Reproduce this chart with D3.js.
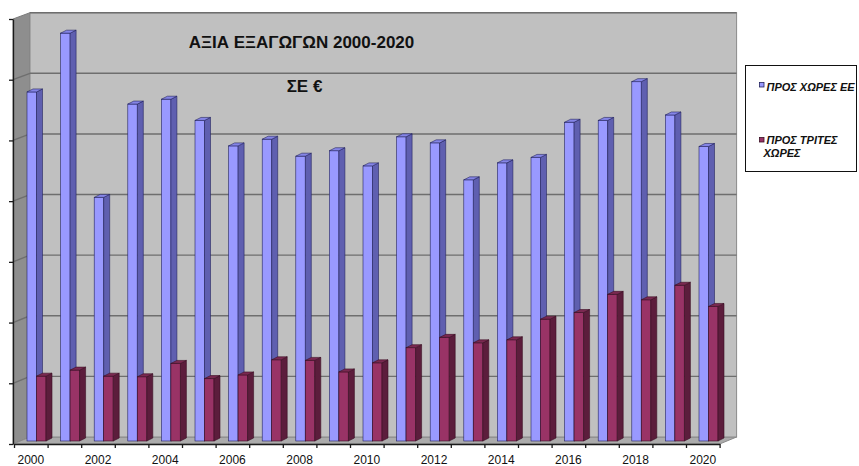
<!DOCTYPE html>
<html>
<head>
<meta charset="utf-8">
<script src="https://cdn.jsdelivr.net/npm/d3@7"></script>
<style>
  html, body { margin: 0; padding: 0; background: #ffffff; }
  svg { display: block; font-family: "Liberation Sans", Arial, sans-serif; }
</style>
</head>
<body>
<svg id="chart" width="859" height="466"></svg>
<script>
// Export values per year (gridline units)
const years = d3.range(2000, 2021);
const euValues = [5.76, 6.73, 4.02, 5.56, 5.64, 5.29, 4.87, 4.98, 4.70, 4.79, 4.54,
                  5.02, 4.92, 4.31, 4.59, 4.68, 5.26, 5.29, 5.93, 5.38, 4.86];
const thirdValues = [1.07, 1.17, 1.07, 1.06, 1.28, 1.03, 1.09, 1.34, 1.33, 1.14, 1.29,
                     1.54, 1.71, 1.62, 1.67, 2.01, 2.12, 2.42, 2.33, 2.57, 2.22];
const seriesNames = ["ΠΡΟΣ ΧΩΡΕΣ ΕΕ", "ΠΡΟΣ ΤΡΙΤΕΣ ΧΩΡΕΣ"];
const yTicks = d3.range(0, 8);

const svg = d3.select("#chart");

// 3D projection of the plot box
const wallDX = 17, wallDY = 7;      // depth offset of back wall
const barDX = 6, barDY = 3;         // depth of each column
const x0 = 14, step = 33.6;
const x = d3.scaleBand().domain(years).range([x0, x0 + step * years.length]).paddingInner(0).paddingOuter(0);
const yFront = d3.scaleLinear().domain([0, 7]).range([444, 19]);
const yWall = d3.scaleLinear().domain([0, 7]).range([437, 12.7]);
const yBar = d3.scaleLinear().domain([0, 7]).range([441, 441 - 7 * 60.6]);

const xL = x0, xR = x0 + step * years.length;

// side wall
svg.append("polygon")
  .attr("points", [[xL - 1, yFront(7)], [xL - 1 + wallDX, yWall(7)], [xL - 1 + wallDX, yWall(0)], [xL - 1, yFront(0)]].join(" "))
  .attr("fill", "#8e8e8e").attr("stroke", "#7a7a7a").attr("stroke-width", 1);

// floor
svg.append("polygon")
  .attr("points", [[xL - 1, yFront(0)], [xL - 1 + wallDX, yWall(0)], [xR + wallDX, yWall(0)], [xR, yFront(0)]].join(" "))
  .attr("fill", "#ababab").attr("stroke", "#8a8a8a").attr("stroke-width", 1);

// back wall
svg.append("rect")
  .attr("x", xL - 1 + wallDX).attr("y", yWall(7))
  .attr("width", xR + wallDX - (xL - 1 + wallDX)).attr("height", yWall(0) - yWall(7))
  .attr("fill", "#c0c0c0").attr("stroke", "#8a8a8a").attr("stroke-width", 1);

// gridlines on back wall and side wall
const grid = svg.append("g").attr("stroke", "#6e6e6e").attr("stroke-width", 1.4);
grid.selectAll("line.back").data(yTicks.slice(1)).join("line")
  .attr("class", "back")
  .attr("x1", xL - 1 + wallDX).attr("x2", xR + wallDX)
  .attr("y1", d => yWall(d)).attr("y2", d => yWall(d));
grid.selectAll("line.side").data(yTicks.slice(1, 7)).join("line")
  .attr("class", "side")
  .attr("x1", xL - 1).attr("x2", xL - 1 + wallDX)
  .attr("y1", d => yFront(d)).attr("y2", d => yWall(d));

// columns
const barW = 9.5;
const styles = [
  { front: "#9999ff", side: "#5f5fb0", top: "#8585e6", edge: "#23235e", off: 13 },
  { front: "#993366", side: "#5c1d3c", top: "#7a2951", edge: "#3a0f24", off: 13 + barW }
];
function drawBar(g, xi, v, s) {
  const left = xi + s.off, right = left + barW;
  const top = yBar(v), bottom = yBar(0);
  g.append("rect").attr("x", left).attr("y", top).attr("width", barW).attr("height", bottom - top)
    .attr("fill", s.front).attr("stroke", s.edge).attr("stroke-width", 0.6);
  g.append("polygon")
    .attr("points", [[right, top], [right + barDX, top - barDY], [right + barDX, bottom - barDY], [right, bottom]].join(" "))
    .attr("fill", s.side).attr("stroke", s.edge).attr("stroke-width", 0.6);
  g.append("polygon")
    .attr("points", [[left, top], [left + barDX, top - barDY], [right + barDX, top - barDY], [right, top]].join(" "))
    .attr("fill", s.top).attr("stroke", s.edge).attr("stroke-width", 0.6);
}
const bars = svg.append("g");
years.forEach((yr, i) => {
  const g = bars.append("g");
  drawBar(g, x(yr), euValues[i], styles[0]);
  drawBar(g, x(yr), thirdValues[i], styles[1]);
});

// value axis (no labels)
svg.append("g")
  .attr("transform", `translate(${xL - 1},0)`)
  .call(d3.axisLeft(yFront).tickValues(yTicks).tickFormat("").tickSize(4).tickSizeOuter(0))
  .call(g => g.selectAll("line, path").attr("stroke", "#1a1a1a").attr("stroke-width", 1.3));

// category axis: ticks on boundaries, labels every other year
const xEdge = d3.scaleLinear().domain([0, years.length]).range([xL, xR]);
svg.append("g")
  .attr("transform", `translate(0,${yFront(0)})`)
  .call(d3.axisBottom(xEdge).tickValues(d3.range(0, years.length + 1)).tickFormat("").tickSize(4).tickSizeOuter(0))
  .call(g => g.selectAll("line, path").attr("stroke", "#1a1a1a").attr("stroke-width", 1.3));
svg.append("g")
  .attr("transform", `translate(0,${yFront(0)})`)
  .call(d3.axisBottom(x).tickSize(0).tickPadding(11).tickFormat(d => d % 2 === 0 ? d : ""))
  .call(g => g.select(".domain").remove())
  .call(g => g.selectAll("text").attr("font-size", 12).attr("fill", "#111")
    .attr("font-family", "'Liberation Sans', Arial, sans-serif"));

// titles
svg.append("text").attr("x", 301.5).attr("y", 47.5).attr("text-anchor", "middle")
  .attr("font-size", 17).attr("font-weight", "bold").attr("fill", "#111")
  .text("ΑΞΙΑ ΕΞΑΓΩΓΩΝ 2000-2020");
svg.append("text").attr("x", 304.5).attr("y", 92).attr("text-anchor", "middle")
  .attr("font-size", 17).attr("font-weight", "bold").attr("fill", "#111")
  .text("ΣΕ €");

// legend
const legend = svg.append("g");
legend.append("rect").attr("x", 745.5).attr("y", 65.5).attr("width", 111).attr("height", 106)
  .attr("fill", "#ffffff").attr("stroke", "#111").attr("stroke-width", 1);
legend.append("rect").attr("x", 759.5).attr("y", 82.5).attr("width", 4.5).attr("height", 4.5)
  .attr("fill", styles[0].front).attr("stroke", "#23235e").attr("stroke-width", 0.8);
legend.append("rect").attr("x", 759.5).attr("y", 137.5).attr("width", 4.5).attr("height", 4.5)
  .attr("fill", styles[1].front).attr("stroke", "#3a0f24").attr("stroke-width", 0.8);
const lt = legend.append("g").attr("font-size", 11).attr("font-style", "italic")
  .attr("font-weight", "bold").attr("fill", "#111");
lt.append("text").attr("x", 766.5).attr("y", 90.5).text(seriesNames[0]);
const t2 = lt.append("text").attr("x", 766.5).attr("y", 144);
t2.append("tspan").text("ΠΡΟΣ ΤΡΙΤΕΣ");
t2.append("tspan").attr("x", 763.5).attr("y", 157.3).text("ΧΩΡΕΣ");
</script>
</body>
</html>
